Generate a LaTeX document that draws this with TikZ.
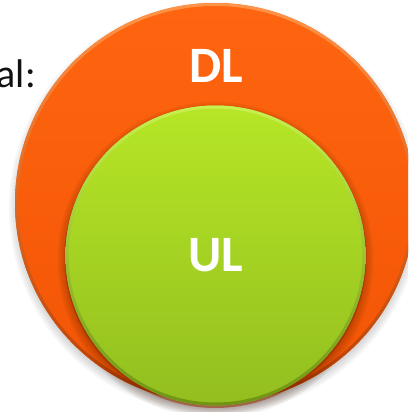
\documentclass[tikz,border=0pt]{standalone}
\usepackage{fontspec}
\setmainfont{Carlito}
\definecolor{orT}{HTML}{FF6510}
\definecolor{orB}{HTML}{F25505}
\definecolor{orRimT}{HTML}{FF9448}
\definecolor{orRimB}{HTML}{B83C00}
\definecolor{grT}{HTML}{B6E626}
\definecolor{grB}{HTML}{93BE1F}
\definecolor{grRimT}{HTML}{C8F050}
\definecolor{grRimB}{HTML}{6F9414}
\definecolor{txtdark}{HTML}{111111}
\tikzset{
  bigtext/.style={font=\bfseries\fontsize{51}{51}\selectfont, text=white, inner sep=0pt, anchor=base},
  sidetext/.style={font=\fontsize{40}{40}\selectfont, text=txtdark, inner sep=0pt, anchor=base east},
  disc/.style={circle, inner sep=0pt, outer sep=0pt}
}
\begin{document}
\begin{tikzpicture}[x=1pt,y=-1pt]
\useasboundingbox (0,0) rectangle (408,412);
\clip (0,0) rectangle (408,412);
% soft drop shadow of outer disc
\foreach \r in {196,198,...,206} {
  \fill[black, opacity=0.035] (215,208) circle (\r);
}
% outer disc
\node[disc, minimum size=400pt, top color=orT, bottom color=orB] (dl) at (215,203) {};
\shade[top color=orRimT, bottom color=orRimB, even odd rule] (dl.center) circle (200) (dl.center) circle (197);
% shadow of inner disc on the outer one
\foreach \r in {150,152,...,158} {
  \fill[black!70!orRimB, opacity=0.06] (215.5,260) circle (\r);
}
\fill[orRimB!80!black, opacity=0.55] (215.5,257) circle (151);
% inner disc
\node[disc, minimum size=300pt, top color=grT, bottom color=grB] (ul) at (215.5,255.5) {};
\shade[top color=grRimT, bottom color=grRimB, even odd rule] (ul.center) circle (150) (ul.center) circle (147);
% texts
\node[bigtext] (dlt) at (216,82.3) {DL};
\node[bigtext] (ult) at (215.5,271) {UL};
\node[sidetext] (side) at (36,88) {al:};
\end{tikzpicture}
\end{document}
